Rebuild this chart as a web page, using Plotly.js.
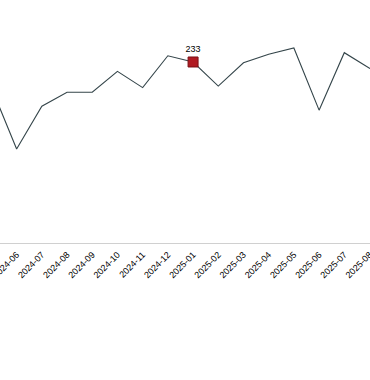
<!DOCTYPE html>
<html><head><meta charset="utf-8">
<script src="https://cdn.plot.ly/plotly-3.0.1.min.js"></script>
<style>html,body{margin:0;padding:0;background:#fff}#chart{width:370px;height:380px}</style>
</head><body><div id="chart"></div>
<script>
const months = ["2024-05","2024-06","2024-07","2024-08","2024-09","2024-10","2024-11","2024-12","2025-01","2025-02","2025-03","2025-04","2025-05","2025-06","2025-07","2025-08","2025-09"];
const values = [200,121,176,194,194,221,200,241,233,202,232,243,251,171,245,225,215];
const highlightMonth = "2025-01";
const highlightValue = 233;

Plotly.newPlot("chart", [
  {x: months, y: values, type: "scatter", mode: "lines",
   line: {color: "#34454a", width: 1.1}, hoverinfo: "skip"},
  {x: [highlightMonth], y: [highlightValue], type: "scatter", mode: "markers+text",
   text: [String(highlightValue)], textposition: "top center",
   textfont: {family: "Liberation Sans, Arial, sans-serif", size: 9, color: "#000"},
   marker: {symbol: "square", size: 10, color: "#b01a22", line: {color: "#7a1015", width: 1}}}
], {
  width: 370, height: 380,
  margin: {l: 0, r: 0, t: 0, b: 137},
  showlegend: false,
  paper_bgcolor: "#fff", plot_bgcolor: "#fff",
  xaxis: {type: "category", range: [0.34, 15.02], showgrid: false, zeroline: false,
          showline: true, linecolor: "#d0d0d0", linewidth: 1, ticks: "outside", ticklen: 2, tickcolor: "rgba(0,0,0,0)",
          tickangle: -45, tickfont: {family: "Liberation Sans, Arial, sans-serif", size: 9, color: "#000"}},
  yaxis: {range: [0, 312.8], visible: false, showgrid: false, zeroline: false}
}, {staticPlot: true});
</script></body></html>
